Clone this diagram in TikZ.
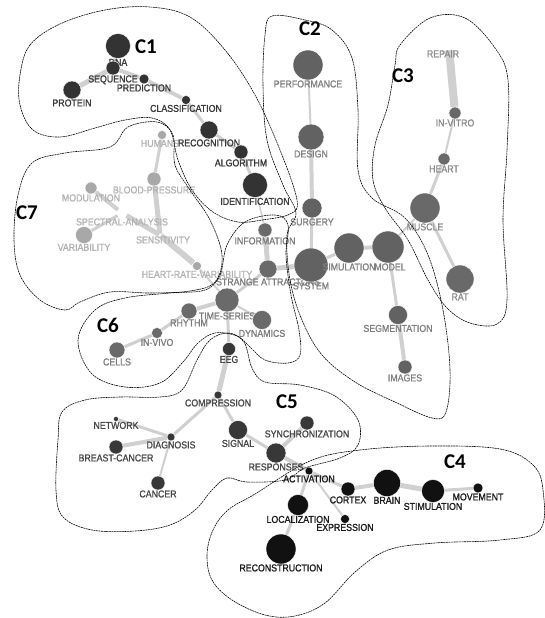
\documentclass[tikz,border=0pt]{standalone}
\usepackage{fontspec}
\setmainfont{Liberation Sans}
\newfontfamily\termfont[FakeStretch=0.88,FakeBold=1.2]{Liberation Sans}
\newfontfamily\clusterfont{Carlito}
\usepackage{tikz}
\usetikzlibrary{positioning}

\definecolor{linkgray}{HTML}{D0D0D0}
\definecolor{fillA}{HTML}{333333}
\definecolor{fillB}{HTML}{626262}
\definecolor{fillC}{HTML}{696969}
\definecolor{fillD}{HTML}{111111}
\definecolor{fillE}{HTML}{383838}
\definecolor{fillF}{HTML}{6A6A6A}
\definecolor{fillG}{HTML}{A8A8A8}
\definecolor{textA}{HTML}{3A3A3A}
\definecolor{textB}{HTML}{808080}
\definecolor{textC}{HTML}{8C8C8C}
\definecolor{textD}{HTML}{1C1C1C}
\definecolor{textE}{HTML}{474747}
\definecolor{textF}{HTML}{7C7C7C}
\definecolor{textG}{HTML}{B2B2B2}

\pgfdeclarelayer{links}
\pgfsetlayers{links,main}

\begin{document}
\begin{tikzpicture}[x=1pt,y=-1pt,cap=round,
  term/.style={circle,inner sep=0pt,draw=white,line width=0.4pt,minimum size=#1,label distance=3pt},
  hid/.style={circle,inner sep=0pt,minimum size=#1,label distance=3pt},
  na/.style={term=#1,fill=fillA}, nb/.style={term=#1,fill=fillB},
  nc/.style={term=#1,fill=fillC}, nd/.style={term=#1,fill=fillD},
  ne/.style={term=#1,fill=fillE}, nf/.style={term=#1,fill=fillF},
  ng/.style={term=#1,fill=fillG},
  tx/.style={font=\termfont\fontsize{10}{10}\selectfont,inner sep=0pt},
  ta/.style={tx,text=textA}, tb/.style={tx,text=textB},
  tc/.style={tx,text=textC}, td/.style={tx,text=textD},
  te/.style={tx,text=textE}, tf/.style={tx,text=textF},
  tg/.style={tx,text=textG},
  link/.style={draw=linkgray,line width=#1},
  hull/.style={draw=black,line width=0.6pt,dash pattern=on 1.6pt off 1pt},
  clus/.style={font=\clusterfont\bfseries\fontsize{21}{21}\selectfont,inner sep=0pt}]
\useasboundingbox (0,0) rectangle (544,618);

%cluster c1
\node[na=25,label={[ta]below:DNA}] (dna) at (118,46) {};
\node[na=14,label={[ta]below:SEQUENCE}] (sequence) at (113,68) {};
\node[na=10,label={[ta]below:PREDICTION}] (prediction) at (144,79) {};
\node[na=18,label={[ta]below:PROTEIN}] (protein) at (72,90) {};
\node[na=9,label={[ta]below:CLASSIFICATION}] (classification) at (186,100) {};
\node[na=18,label={[ta]below:RECOGNITION}] (recognition) at (209,130) {};
\node[na=14,label={[ta]below:ALGORITHM}] (algorithm) at (241,152) {};
\node[na=25,label={[ta]below:IDENTIFICATION}] (identification) at (255,185) {};

%cluster c7
\node[ng=9,label={[tg,xshift=-2]below:HUMANS}] (humans) at (162,135) {};
\node[ng=14,label={[tg]below:BLOOD-PRESSURE}] (bloodpressure) at (154,179) {};
\node[ng=12,label={[tg]below:MODULATION}] (modulation) at (91,188) {};
\node[hid=10,label={[tg]below:SPECTRAL-ANALYSIS}] (spectral) at (122,213) {};
\node[ng=17,label={[tg]below:VARIABILITY}] (variability) at (84,235) {};
\node[hid=2,label={[tg,xshift=3]below:SENSITIVITY}] (sensitivity) at (160,235) {};
\node[ng=9,label={[tg]below:HEART-RATE-VARIABILITY}] (hrv) at (197,266) {};

%cluster c6
\node[nf=14,label={[tf]below:INFORMATION}] (information) at (265,230) {};
\node[nf=18,label={[tf]below:STRANGE ATTRACTORS}] (strange) at (268,269) {};
\node[nf=24,label={[tf]below:TIME-SERIES}] (timeseries) at (227,300) {};
\node[nf=19,label={[tf]below:DYNAMICS}] (dynamics) at (262,320) {};
\node[nf=16,label={[tf]below:RHYTHM}] (rhythm) at (189,311) {};
\node[nf=11,label={[tf]below:IN-VIVO}] (invivo) at (157,333) {};
\node[nf=16,label={[tf]below:CELLS}] (cells) at (117,350) {};

%cluster c2
\node[nb=30,label={[tb]below:PERFORMANCE}] (performance) at (308,65) {};
\node[nb=26,label={[tb]below:DESIGN}] (design) at (311,137) {};
\node[nb=20,label={[tb]below:SURGERY}] (surgery) at (312,208) {};
\node[nb=34,label={[tb]below:SYSTEM}] (system) at (311,265) {};
\node[nb=30,label={[tb]below:SIMULATION}] (simulation) at (349,248) {};
\node[nb=32,label={[tb,xshift=2]below:MODEL}] (model) at (388,247) {};
\node[nb=19,label={[tb]below:SEGMENTATION}] (segmentation) at (398,315) {};
\node[nb=14,label={[tb]below:IMAGES}] (images) at (405,367) {};

%cluster c3
\node[hid=4,label={[tc,xshift=-6]below:REPAIR}] (repair) at (449,48) {};
\node[nc=12,label={[tc]below:IN-VITRO}] (invitro) at (455,113) {};
\node[nc=12,label={[tc]below:HEART}] (heart) at (444,159) {};
\node[nc=30,label={[tc]below:MUSCLE}] (muscle) at (425,208) {};
\node[nc=28,label={[tc]below:RAT}] (rat) at (460,279) {};

%cluster c5
\node[ne=13,label={[te]below:EEG}] (eeg) at (229,349) {};
\node[ne=8,label={[te]below:COMPRESSION}] (compression) at (218,395) {};
\node[ne=5,label={[te]below:NETWORK}] (network) at (116,419) {};
\node[ne=8,label={[te]below:DIAGNOSIS}] (diagnosis) at (171,437) {};
\node[ne=14,label={[te]below:BREAST-CANCER}] (breastcancer) at (116,447) {};
\node[ne=14,label={[te]below:CANCER}] (cancer) at (158,483) {};
\node[ne=19,label={[te]below:SIGNAL}] (signal) at (238,430) {};
\node[ne=14,label={[te]below:SYNCHRONIZATION}] (synchronization) at (307,423) {};
\node[ne=20,label={[te]below:RESPONSES}] (responses) at (276,453) {};

%cluster c4
\node[nd=8,label={[td]below:ACTIVATION}] (activation) at (309,471) {};
\node[nd=14,label={[td]below:CORTEX}] (cortex) at (348,489) {};
\node[nd=27,label={[td]below:BRAIN}] (brain) at (387,483) {};
\node[nd=23,label={[td]below:STIMULATION}] (stimulation) at (433,491) {};
\node[nd=10,label={[td]below:MOVEMENT}] (movement) at (478,488) {};
\node[nd=21,label={[td]below:LOCALIZATION}] (localization) at (298,505) {};
\node[nd=9,label={[td]below:EXPRESSION}] (expression) at (345,519) {};
\node[nd=30,label={[td]below:RECONSTRUCTION}] (reconstruction) at (281,549) {};

%links
\begin{pgfonlayer}{links}
\draw[link=5] (protein) -- (sequence);
\draw[link=3] (sequence) -- (dna);
\draw[link=4] (sequence) -- (prediction);
\draw[link=4] (prediction) -- (classification);
\draw[link=3] (classification) -- (recognition);
\draw[link=3] (recognition) -- (algorithm);
\draw[link=3] (algorithm) -- (identification);
\draw[link=1.5] (identification) -- (information);

\draw[link=3] (humans) -- (bloodpressure);
\draw[link=5] (bloodpressure) -- (sensitivity);
\draw[link=4] (modulation) -- (spectral);
\draw[link=3] (variability) -- (spectral);
\draw[link=5] (spectral) -- (sensitivity);
\draw[link=6] (sensitivity) -- (hrv);
\draw[link=2] (hrv) -- (timeseries);

\draw[link=5] (information) -- (strange);
\draw[link=5] (strange) -- (system);
\draw[link=3] (strange) -- (timeseries);
\draw[link=2] (timeseries) -- (dynamics);
\draw[link=4] (timeseries) -- (rhythm);
\draw[link=3] (rhythm) -- (invivo);
\draw[link=3] (invivo) -- (cells);
\draw[link=3] (timeseries) -- (eeg);

\draw[link=2] (performance) -- (design);
\draw[link=4] (design) -- (surgery);
\draw[link=3] (surgery) -- (system);
\draw[link=3] (system) -- (simulation);
\draw[link=4] (simulation) -- (model);
\draw[link=3] (model) -- (segmentation);
\draw[link=4] (segmentation) -- (images);
\draw[link=2] (model) -- (muscle);

\draw[link=8,line cap=butt] (repair) -- (invitro);
\draw[link=2] (invitro) -- (heart);
\draw[link=3] (heart) -- (muscle);
\draw[link=3] (muscle) -- (rat);

\draw[link=5] (eeg) -- (compression);
\draw[link=3] (compression) -- (diagnosis);
\draw[link=3] (compression) -- (signal);
\draw[link=3] (diagnosis) -- (network);
\draw[link=4] (diagnosis) -- (breastcancer);
\draw[link=2] (diagnosis) -- (cancer);
\draw[link=3] (signal) -- (responses);
\draw[link=4] (responses) -- (synchronization);
\draw[link=4] (responses) -- (activation);

\draw[link=3] (activation) -- (cortex);
\draw[link=4] (cortex) -- (brain);
\draw[link=5] (brain) -- (stimulation);
\draw[link=3] (stimulation) -- (movement);
\draw[link=3] (activation) -- (localization);
\draw[link=3] (localization) -- (reconstruction);
\draw[link=2] (activation) -- (expression);
\end{pgfonlayer}

%hulls
\draw[hull] plot[smooth cycle,tension=0.6] coordinates {(20,75) (30,45) (60,24) (105,10) (150,7) (190,17) (225,50) (255,95) (280,150) (297,200) (290,214) (262,220) (238,222) (213,212) (192,190) (178,160) (170,130) (152,118) (125,120) (95,128) (60,137) (33,130) (20,105)};
\draw[hull] plot[smooth cycle,tension=0.6] coordinates {(272,16) (305,20) (332,30) (352,58) (358,110) (358,170) (372,198) (405,218) (428,255) (443,310) (450,370) (446,412) (432,418) (395,402) (355,382) (322,355) (302,320) (290,280) (287,235) (296,213) (283,185) (267,140) (263,85) (265,35)};
\draw[hull] plot[smooth cycle,tension=0.6] coordinates {(400,45) (430,18) (465,18) (495,48) (508,80) (507,150) (503,220) (507,300) (497,324) (470,323) (447,308) (428,280) (408,240) (385,208) (373,180) (375,145) (388,105) (395,65)};
\draw[hull] plot[smooth cycle,tension=0.6] coordinates {(310,461) (360,450) (430,446) (500,449) (533,465) (543,490) (540,530) (500,540) (435,543) (388,550) (355,572) (325,603) (295,616) (265,615) (232,600) (212,580) (207,555) (213,530) (228,510) (255,494)};
\draw[hull] plot[smooth cycle,tension=0.6] coordinates {(62,412) (85,400) (120,397) (160,397) (182,390) (197,360) (210,340) (228,333) (244,342) (252,368) (265,382) (300,385) (335,396) (358,420) (358,445) (340,458) (305,468) (285,480) (247,482) (227,478) (212,490) (195,510) (170,525) (135,531) (92,530) (63,517) (56,490) (58,440)};
\draw[hull] plot[smooth cycle,tension=0.6] coordinates {(78,340) (95,310) (125,298) (170,293) (205,290) (220,275) (227,245) (245,222) (275,215) (288,225) (286,255) (291,295) (299,330) (300,355) (288,363) (265,360) (250,347) (237,336) (215,333) (198,343) (183,362) (160,383) (125,387) (92,374)};
\draw[hull] plot[smooth cycle,tension=0.6] coordinates {(14,240) (18,195) (32,163) (65,153) (110,147) (128,127) (157,122) (173,135) (175,165) (190,190) (210,220) (222,255) (215,282) (190,291) (150,293) (110,292) (80,302) (65,310) (40,300) (20,275)};

%cluster names
\node[clus] (c1) at (146,47) {C1};
\node[clus] (c2) at (310,29) {C2};
\node[clus] (c3) at (403,76) {C3};
\node[clus] (c4) at (455,462) {C4};
\node[clus] (c5) at (287,402) {C5};
\node[clus] (c6) at (108,325) {C6};
\node[clus] (c7) at (27,213) {C7};

\end{tikzpicture}
\end{document}
